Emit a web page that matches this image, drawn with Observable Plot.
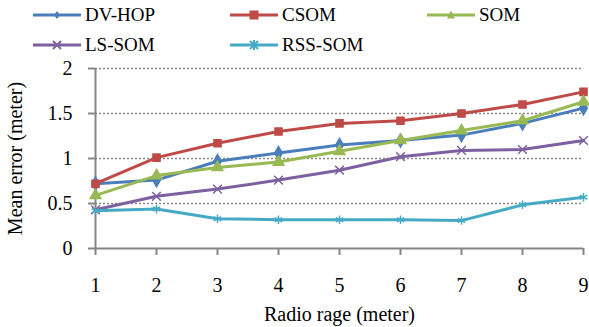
<!DOCTYPE html>
<html><head><meta charset="utf-8">
<script src="https://cdn.jsdelivr.net/npm/d3@7"></script>
<script src="https://cdn.jsdelivr.net/npm/@observablehq/plot@0.6"></script>
<style>
body{margin:0;background:#fff;font-family:"Liberation Serif","Times New Roman",serif;}
#legend{position:relative;width:589px;height:58px;}
.item{position:absolute;display:flex;align-items:center;height:30px;font-size:19px;color:#000;}
.item svg{margin-right:4px;}
#chart svg{display:block;}
#chart svg text{font-family:"Liberation Serif","Times New Roman",serif !important;font-variant:normal !important;}
</style></head>
<body>
<div id="legend"></div>
<div id="chart"></div>
<script>
const radioRange = [1, 2, 3, 4, 5, 6, 7, 8, 9];
const seriesNames = ["DV-HOP", "CSOM", "SOM", "LS-SOM", "RSS-SOM"];
const seriesColors = ["#4A7EBB", "#BE4B48", "#98B954", "#7D60A0", "#46AAC5"];
const seriesSymbols = ["diamond", "square", "triangle", "times", "asterisk"];
const dvHop = [0.72, 0.76, 0.97, 1.06, 1.15, 1.20, 1.26, 1.39, 1.56];
const csom  = [0.72, 1.01, 1.17, 1.30, 1.39, 1.42, 1.50, 1.60, 1.74];
const som   = [0.59, 0.81, 0.90, 0.96, 1.08, 1.20, 1.31, 1.42, 1.63];
const lsSom = [0.43, 0.58, 0.66, 0.76, 0.87, 1.02, 1.09, 1.10, 1.20];
const rssSom= [0.42, 0.44, 0.33, 0.32, 0.32, 0.32, 0.31, 0.485, 0.57];
const yTicks = [0, 0.5, 1, 1.5, 2];
const allSeries = [dvHop, csom, som, lsSom, rssSom];

const data = allSeries.flatMap((vals, i) =>
  vals.map((v, j) => ({series: seriesNames[i], x: radioRange[j], y: v})));

// legend
const legend = document.getElementById("legend");
const markerSvg = {
  "diamond": c => `<path d="M24,2 L27,6 L24,10 L21,6 Z" fill="${c}"/>`,
  "square": c => `<rect x="19.5" y="1.5" width="9" height="9" fill="${c}"/>`,
  "triangle": c => `<path d="M24,1.5 L28,9.5 L20,9.5 Z" fill="${c}"/>`,
  "times": c => `<path d="M20,2 L28,10 M28,2 L20,10" stroke="${c}" stroke-width="2"/>`,
  "asterisk": c => `<path d="M20,2 L28,10 M28,2 L20,10 M24,1 L24,11" stroke="${c}" stroke-width="2"/>`
};
const cols = [33, 230, 427];
seriesNames.forEach((name, i) => {
  const d = document.createElement("div");
  d.className = "item";
  d.style.left = cols[i % 3] + "px";
  d.style.top = (Math.floor(i / 3) * 30) + "px";
  const c = seriesColors[i];
  d.innerHTML = `<svg width="48" height="12"><line x1="0" y1="6" x2="48" y2="6" stroke="${c}" stroke-width="3"/>${markerSvg[seriesSymbols[i]](c)}</svg><span>${name}</span>`;
  legend.appendChild(d);
});

const axisColor = "#868686";
const serif = '"Liberation Serif","Times New Roman",serif';
const chart = Plot.plot({
  width: 589, height: 269,
  marginLeft: 95, marginRight: 6, marginTop: 10, marginBottom: 79,
  style: {fontFamily: serif, fontSize: "20px", background: "#fff", color: "#000"},
  x: {domain: [1, 9]},
  y: {domain: [0, 2]},
  color: {domain: seriesNames, range: seriesColors},
  symbol: {domain: seriesNames, range: seriesSymbols},
  marks: [
    Plot.ruleY(yTicks.filter(t => t > 0), {stroke: axisColor, strokeWidth: 1.5, strokeDasharray: "2,2"}),
    Plot.axisX({ticks: radioRange, tickFormat: d => String(d), tickSize: 7, tickPadding: 22, fontFamily: serif, fontVariant: "normal",
      stroke: axisColor, strokeWidth: 2, label: "Radio rage (meter)", labelAnchor: "center", labelArrow: "none", labelOffset: 72}),
    Plot.axisY({ticks: yTicks, tickFormat: d => String(d), tickSize: 7, tickPadding: 16, fontFamily: serif, fontVariant: "normal",
      stroke: axisColor, strokeWidth: 2, label: "Mean error (meter)", labelAnchor: "center", labelArrow: "none", labelOffset: 88}),
    Plot.ruleY([0], {stroke: axisColor, strokeWidth: 2}),
    Plot.ruleX([1], {stroke: axisColor, strokeWidth: 2}),
    Plot.line(data, {x: "x", y: "y", z: "series", stroke: "series", strokeWidth: 3}),
    Plot.dot(data, {x: "x", y: "y", symbol: "series", fill: "series", stroke: "series", strokeWidth: 1.5, r: 4})
  ]
});
document.getElementById("chart").appendChild(chart);
</script>
</body></html>
